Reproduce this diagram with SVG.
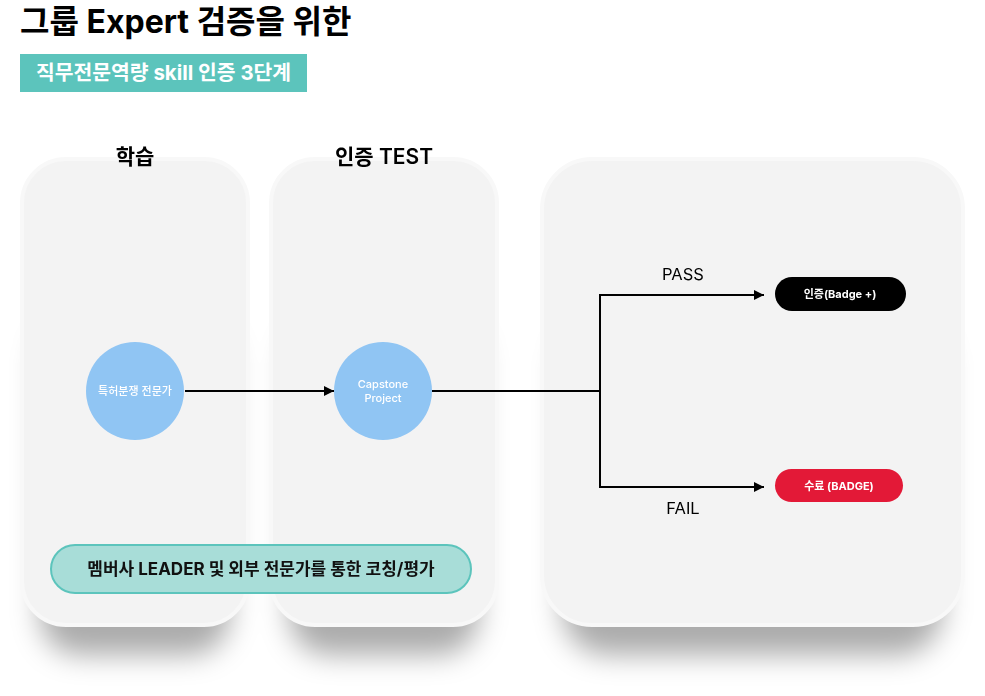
<svg xmlns="http://www.w3.org/2000/svg" width="985" height="696" viewBox="0 0 985 696">
<defs>
<filter id="blur" x="-30%" y="-30%" width="160%" height="160%">
<feGaussianBlur stdDeviation="14"/>
</filter>
<marker id="ah" viewBox="0 0 10 10" refX="10" refY="5" markerWidth="10" markerHeight="10" markerUnits="userSpaceOnUse" orient="auto">
<path d="M0,0 L10,5 L0,10 z" fill="#000"/>
</marker>
<style>
text{font-family:Inter,"Noto Sans CJK KR",sans-serif}
.panel{fill:#f3f3f3;stroke:#f8f8f8;stroke-width:4}
.shadow{fill:#000;opacity:0.33}
.hdr{font-size:21px;font-weight:600;fill:#000;text-anchor:middle}
.circ{fill:#90c5f3}
.ct{font-size:11px;font-weight:500;fill:#fff;text-anchor:middle}
.lbl{font-size:16.5px;fill:#000;text-anchor:middle}
.bt{font-size:11px;font-weight:700;fill:#fff;text-anchor:middle}
.conn{stroke:#000;stroke-width:2;fill:none}
</style>
</defs>
<rect width="985" height="696" fill="#fff"/>
<text x="20" y="33" font-size="32" font-weight="700" fill="#000">그룹 Expert 검증을 위한</text>
<rect x="20" y="54" width="287" height="38" fill="#5cc4bc"/>
<text x="36" y="80" font-size="20.4" font-weight="700" fill="#fff">직무전문역량 skill 인증 3단계</text>

<g id="shadows" filter="url(#blur)">
<rect class="shadow" x="40" y="320" width="190" height="335" rx="40"/>
<rect class="shadow" x="289" y="320" width="190" height="335" rx="40"/>
<rect class="shadow" x="562" y="320" width="381" height="335" rx="46"/>
</g>

<g id="panel1"><rect class="panel" x="22" y="159" width="226" height="466" rx="44"/></g>
<g id="panel2"><rect class="panel" x="271" y="159" width="226" height="466" rx="44"/></g>
<g id="panel3"><rect class="panel" x="542" y="159" width="421" height="466" rx="50"/></g>

<text class="hdr" x="135" y="164">학습</text>
<text class="hdr" x="384" y="164">인증 TEST</text>

<g id="connectors">
<line class="conn" x1="185" y1="391" x2="334" y2="391" marker-end="url(#ah)"/>
<polyline class="conn" points="432,391 600,391"/>
<polyline class="conn" points="600,391 600,295 764,295" marker-end="url(#ah)"/>
<polyline class="conn" points="600,391 600,487 764,487" marker-end="url(#ah)"/>
<text class="lbl" x="683" y="280">PASS</text>
<text class="lbl" x="683" y="514">FAIL</text>
</g>

<g id="n1"><circle class="circ" cx="135" cy="391" r="49"/><text class="ct" x="135" y="395">특허분쟁 전문가</text></g>
<g id="n2"><circle class="circ" cx="383" cy="391" r="49"/><text class="ct" x="383" y="388">Capstone</text><text class="ct" x="383" y="402">Project</text></g>
<g id="n3"><rect x="775" y="277" width="131" height="34" rx="17" fill="#000"/><text class="bt" x="840" y="298">인증(Badge +)</text></g>
<g id="n4"><rect x="775" y="469" width="128" height="33" rx="16.5" fill="#e31937"/><text class="bt" x="839" y="490">수료 (BADGE)</text></g>
<g id="n5"><rect x="51" y="545" width="420" height="48" rx="24" fill="#a8ddd8" stroke="#5cc4bc" stroke-width="2"/><text x="261" y="575" font-size="17" font-weight="700" fill="#111" text-anchor="middle">멤버사 LEADER 및 외부 전문가를 통한 코칭/평가</text></g>
</svg>
